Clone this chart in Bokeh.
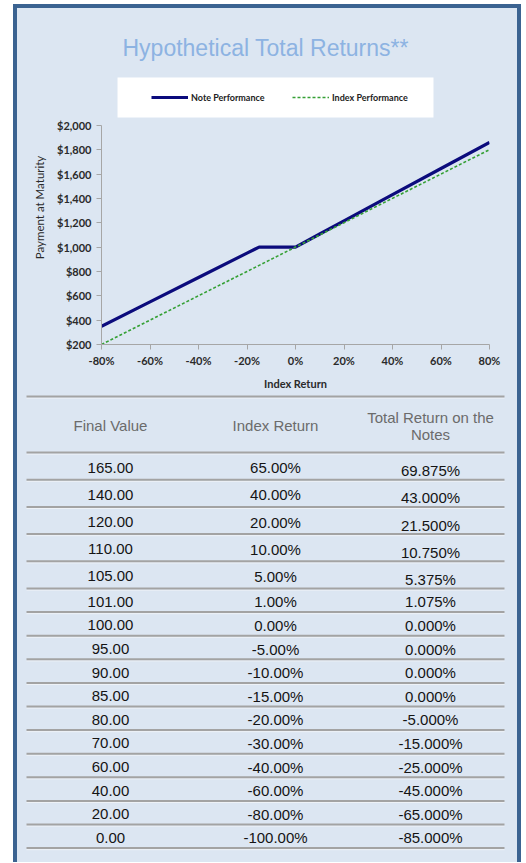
from bokeh.plotting import figure
from bokeh.models import (Range1d, FixedTicker, NumeralTickFormatter, Legend, LegendItem,
                          BoxAnnotation)
from bokeh.layouts import column
from bokeh.embed import file_html
from bokeh.resources import INLINE
from bokeh.core.properties import value
import numpy as np

# ---------------- chart data ----------------
chart_index_return = [-0.80, -0.60, -0.40, -0.20, -0.15, 0.00, 0.10, 0.20, 0.40, 0.60, 0.80]
note_payment = [350, 550, 750, 950, 1000, 1000, 1107.5, 1215, 1430, 1645, 1860]
index_payment = [200, 400, 600, 800, 850, 1000, 1100, 1200, 1400, 1600, 1800]
y_ticks = [200, 400, 600, 800, 1000, 1200, 1400, 1600, 1800, 2000]
x_ticks = [-0.8, -0.6, -0.4, -0.2, 0.0, 0.2, 0.4, 0.6, 0.8]

# ---------------- table data ----------------
table_headers = ["Final Value", "Index Return", "Total Return on the\nNotes"]
final_value = [165, 140, 120, 110, 105, 101, 100, 95, 90, 85, 80, 70, 60, 40, 20, 0]
index_return_pct = [65, 40, 20, 10, 5, 1, 0, -5, -10, -15, -20, -30, -40, -60, -80, -100]
note_return_pct = [69.875, 43.0, 21.5, 10.75, 5.375, 1.075, 0, 0, 0, 0,
                   -5, -15, -25, -45, -65, -85]

# ---------------- styles ----------------
BG = "#dce6f2"
BORDER = "#3b6391"
TITLE_C = "#8db3e2"
NAVY = "#0b0b7c"
GREEN = "#35a035"
AX_C = "#a6a6a6"

# ---------------- chart figure ----------------
W = 500
HA = 384
y_top = 2450
pA = figure(width=W, height=HA, x_range=Range1d(-0.8, 0.8), y_range=Range1d(200, y_top),
            output_backend="svg", toolbar_location=None, frame_align=False,
            min_border_left=84, min_border_right=28, min_border_top=62, min_border_bottom=47,
            background_fill_color=BG, border_fill_color=BG, outline_line_color=None,
            title="Hypothetical Total Returns**")
pA.title.align = "left"
pA.title.offset = 21
pA.title.text_font = "Liberation Sans"
pA.title.text_font_size = "23px"
pA.title.text_font_style = "normal"
pA.title.text_color = TITLE_C
pA.title.standoff = 19
pA.grid.visible = False

# white legend box (behind legend)
pA.add_layout(BoxAnnotation(left=-0.734, right=0.569, bottom=2065, top=2393,
                            fill_color="white", fill_alpha=1.0, line_color=None))

r_note = pA.line(chart_index_return, note_payment, line_color=NAVY, line_width=3.2)
r_idx = pA.line(chart_index_return, index_payment, line_color=GREEN, line_width=1.6,
                line_dash="3 2")

for ax in (pA.xaxis[0], pA.yaxis[0]):
    ax.axis_line_color = AX_C
    ax.major_tick_line_color = AX_C
    ax.minor_tick_line_color = None
    ax.major_tick_in = 0
    ax.major_tick_out = 5
    ax.major_label_text_font = "Lato"
    ax.major_label_text_font_size = "11px"
    ax.major_label_text_font_style = "bold"
    ax.major_label_text_color = "#2a2a2a"
    ax.axis_label_text_font = "Lato"
    ax.axis_label_text_font_size = "11px"
    ax.axis_label_text_color = "#2a2a2a"

pA.yaxis.ticker = FixedTicker(ticks=y_ticks)
pA.yaxis.bounds = (200, 2000)
pA.yaxis.formatter = NumeralTickFormatter(format="$0,0")
pA.yaxis.axis_label = "Payment at Maturity"
pA.yaxis.axis_label_text_font_size = "11.5px"
pA.yaxis.axis_label_text_font_style = "normal"
pA.yaxis.major_label_standoff = 5
pA.yaxis.axis_label_standoff = 8

pA.xaxis.ticker = FixedTicker(ticks=x_ticks)
pA.xaxis.formatter = NumeralTickFormatter(format="0%")
pA.xaxis.axis_label = "Index Return"
pA.xaxis.axis_label_text_font_style = "bold"
pA.xaxis.major_label_standoff = 4
pA.xaxis.axis_label_standoff = 7

legend = Legend(items=[LegendItem(label="Note Performance", renderers=[r_note]),
                       LegendItem(label="Index Performance", renderers=[r_idx])],
                orientation="horizontal", location=(50, 241),
                background_fill_alpha=0.0, border_line_color=None,
                padding=0, margin=0, spacing=2,
                glyph_width=37, glyph_height=12, label_height=12,
                label_standoff=3, label_width=99,
                label_text_font="Lato", label_text_font_size="9px",
                label_text_font_style="bold", label_text_color="#222222")
pA.add_layout(legend)

# ---------------- table figure ----------------
HB = 470
pB = figure(width=W, height=HB, x_range=Range1d(0, W), y_range=Range1d(HB, 0),
            output_backend="svg", toolbar_location=None, frame_align=False,
            x_axis_location=None, y_axis_location=None, min_border=0,
            background_fill_color=BG, border_fill_color=BG, outline_line_color=None)
pB.grid.visible = False

header_h = 56
row_h = np.array([27.2] * 5 + [23.6] * 11)
top0 = 4
lines_y = np.concatenate([[top0, top0 + header_h], top0 + header_h + np.cumsum(row_h)])
row_mid = (lines_y[1:-1] + lines_y[2:]) / 2 + 1.5

line_x0, line_x1 = 9, 487
pB.segment(x0=line_x0, x1=line_x1, y0=lines_y + 1.6, y1=lines_y + 1.6,
           line_color="#eef2f7", line_width=1)
pB.segment(x0=line_x0, x1=line_x1, y0=lines_y, y1=lines_y,
           line_color="#a3a3a3", line_width=2)

col_x = [93, 258, 413]
head_y = top0 + header_h / 2 + 1
pB.text(x=col_x, y=[head_y] * 3, text=table_headers,
        text_font=value("Liberation Sans"), text_font_size="15px",
        text_align="center", text_baseline="middle", text_color="#6b6b6b",
        text_line_height=1.0)

col1 = [f"{v:.2f}" for v in final_value]
col2 = [f"{v:.2f}%" for v in index_return_pct]
col3 = [f"{v:.3f}%" for v in note_return_pct]
col3_shift = np.array([3.0 if i < 5 else 0.0 for i in range(len(col3))])

for cx, texts, dy in ((col_x[0], col1, 0), (col_x[1], col2, 0), (col_x[2], col3, col3_shift)):
    pB.text(x=[cx] * len(texts), y=row_mid + dy, text=texts,
            text_font=value("Liberation Sans"), text_font_size="15px",
            text_align="center", text_baseline="middle", text_color="#141414")

layout = column(pA, pB, spacing=0,
                styles={"margin-left": "13px",
                        "margin-top": "4px",
                        "border-left": f"4px solid {BORDER}",
                        "border-right": f"4px solid {BORDER}",
                        "border-top": f"4px solid {BORDER}",
                        "background-color": BG})

open("out.html", "w").write(file_html(layout, INLINE))
